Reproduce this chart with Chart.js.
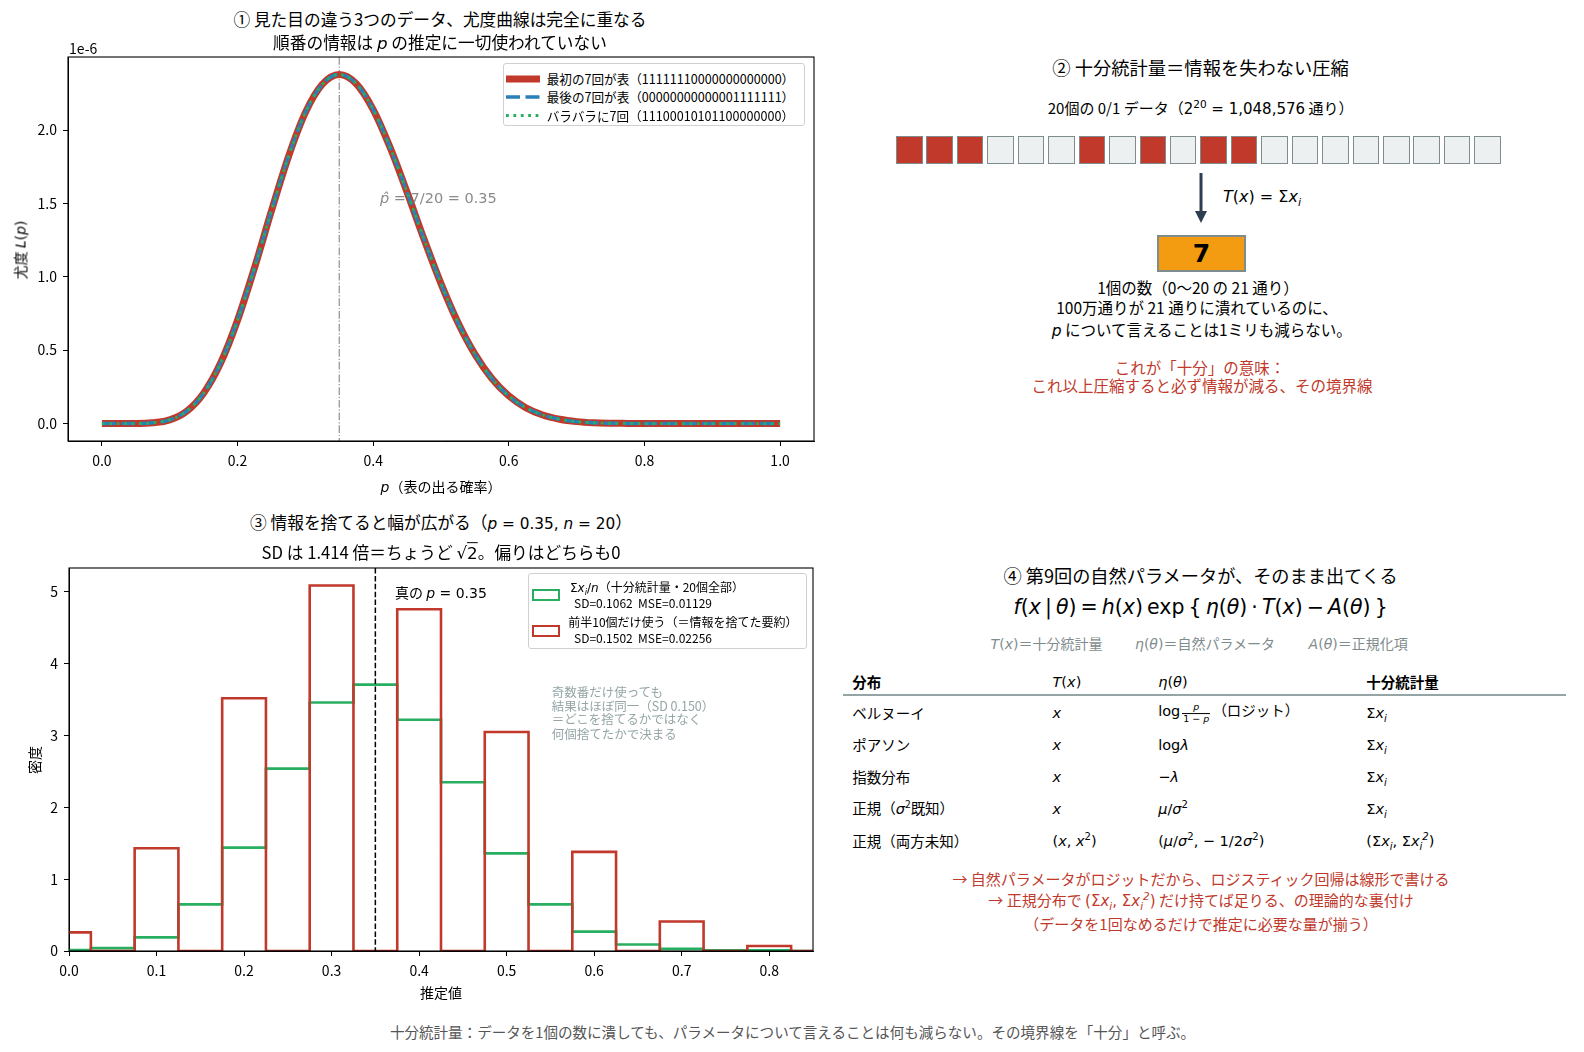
<!DOCTYPE html>
<html lang="ja">
<head>
<meta charset="utf-8">
<title>十分統計量</title>
<script src="https://cdn.jsdelivr.net/npm/chart.js@4.4.1/dist/chart.umd.min.js"></script>
<style>
  body { margin: 0; width: 1584px; height: 1052px; position: relative; overflow: hidden; background: #fff;
         font-family: "Noto Sans CJK JP", "Noto Sans", sans-serif; color: #000; }
  canvas { position: absolute; left: 0; }
  .t { position: absolute; white-space: nowrap; line-height: 1; transform: translate(-50%, -50%); }
  .l { position: absolute; white-space: nowrap; line-height: 1; transform: translate(0, -50%); }
  .rot { transform: translate(-50%, -50%) rotate(-90deg); }
  .m { font-family: "DejaVu Sans"; font-style: italic; }
  .r { font-family: "DejaVu Sans"; font-style: normal; }
  sub, sup { font-size: 70%; line-height: 0; }
  .pre { white-space: pre; }
  .legend { position: absolute; box-sizing: border-box; background: #fff; border: 1px solid #d0d0d0; border-radius: 3px; }
  .swatch { position: absolute; box-sizing: border-box; width: 28px; height: 11.5px; border: 2.6px solid; }
  #bits { position: absolute; left: 896px; top: 135.7px; display: flex; gap: 3.95px; }
  .bit { width: 26.5px; height: 28.6px; box-sizing: border-box; border: 1.2px solid #7f8c8d; background: #ecf0f1; }
  .bit.on { background: #c0392b; }
  #sumBox { position: absolute; left: 1157px; top: 235px; width: 89px; height: 36.5px; box-sizing: border-box;
            background: #f39c12; border: 2px solid #7f8c8d; display: flex; align-items: center; justify-content: center;
            font-family: "DejaVu Sans"; font-weight: bold; font-size: 25px; }
  .red { color: #c0392b; }
  .grey { color: #7f8c8d; }
  .frac { display: inline-block; vertical-align: -0.55em; text-align: center; font-size: 9.5px; margin: 0 2px; }
  .frac > span { display: block; line-height: 1.1; padding: 0 1px; }
  .frac > span:first-child { border-bottom: 0.8px solid #000; }
  .rule { position: absolute; left: 843px; top: 694px; width: 723px; height: 1.6px; background: #95a5a6; }
</style>
</head>
<body>

<!-- ① likelihood -->
<canvas id="likeChart" width="820" height="450" style="top:50px"></canvas>
<div class="t" style="left:440px;top:19px;font-size:16.7px">① 見た目の違う3つのデータ、尤度曲線は完全に重なる</div>
<div class="t" style="left:440px;top:42.7px;font-size:16.7px">順番の情報は <span class="m">p</span> の推定に一切使われていない</div>
<div class="l" style="left:69px;top:48px;font-size:14px">1e-6</div>
<div class="t rot" style="left:20px;top:250px;font-size:14px">尤度 <span class="m">L</span><span class="r">(</span><span class="m">p</span><span class="r">)</span></div>
<div class="t" style="left:441px;top:486px;font-size:14px"><span class="m">p</span>（表の出る確率）</div>
<div class="l" style="left:380px;top:197.7px;font-size:14.5px;color:#8a8a8a;font-family:'DejaVu Sans'"><span class="m">p̂</span> = 7/20 = 0.35</div>
<div class="legend" style="left:503px;top:62.5px;width:302px;height:63.5px"></div>
<svg style="position:absolute;left:506px;top:70px" width="34" height="52">
  <line x1="0" x2="34" y1="9" y2="9" stroke="#c0392b" stroke-width="7"/>
  <line x1="0" x2="34" y1="27" y2="27" stroke="#2980b9" stroke-width="3.5" stroke-dasharray="14 5.5"/>
  <line x1="0" x2="34" y1="45.5" y2="45.5" stroke="#27ae60" stroke-width="2.8" stroke-dasharray="2.8 4.6"/>
</svg>
<div id="likeLegend"></div>

<!-- ② sufficient statistic -->
<div class="t" style="left:1200.6px;top:66.5px;font-size:18.3px">② 十分統計量＝情報を失わない圧縮</div>
<div class="t" style="left:1200.6px;top:108px;font-size:15px">20個の 0/1 データ（<span class="r">2<sup>20</sup> = 1,048,576</span> 通り）</div>
<div id="bits"></div>
<svg style="position:absolute;left:1190px;top:170px" width="22" height="56">
  <line x1="11" x2="11" y1="3" y2="42" stroke="#2c3e50" stroke-width="3"/>
  <polygon points="5,41 17,41 11,53" fill="#2c3e50"/>
</svg>
<div class="l" style="left:1223px;top:196.7px;font-size:16px;font-family:'DejaVu Sans'"><span class="m">T</span>(<span class="m">x</span>) = Σ<span class="m">x<sub>i</sub></span></div>
<div id="sumBox"></div>
<div class="t" style="left:1198px;top:287.7px;font-size:15.5px">1個の数（0〜20 の 21 通り）</div>
<div class="t" style="left:1197px;top:307.7px;font-size:15.5px">100万通りが 21 通りに潰れているのに、</div>
<div class="t" style="left:1201.7px;top:331px;font-size:15.5px"><span class="m">p</span> について言えることは1ミリも減らない。</div>
<div class="t red" style="left:1200px;top:367.7px;font-size:15.5px">これが「十分」の意味：</div>
<div class="t red" style="left:1202px;top:385.7px;font-size:15.5px">これ以上圧縮すると必ず情報が減る、その境界線</div>

<!-- ③ histogram -->
<canvas id="histChart" width="820" height="460" style="top:550px"></canvas>
<div class="t" style="left:441px;top:522.7px;font-size:16.7px">③ 情報を捨てると幅が広がる（<span style="font-size:15.3px"><span class="m">p</span><span class="r"> = 0.35, </span><span class="m">n</span><span class="r"> = 20</span></span>）</div>
<div class="t" style="left:441px;top:553.3px;font-size:16.7px">SD は 1.414 倍＝ちょうど <span class="r">√<span style="text-decoration:overline">2</span></span>。偏りはどちらも0</div>
<div class="t rot" style="left:33.6px;top:760px;font-size:14px">密度</div>
<div class="t" style="left:441px;top:992px;font-size:14px">推定値</div>
<div class="l" style="left:395px;top:592px;font-size:14px">真の <span class="m">p</span><span class="r"> = 0.35</span></div>
<div class="legend" style="left:528.3px;top:572.7px;width:278.4px;height:76px"></div>
<div class="swatch" style="left:532px;top:589.3px;border-color:#27ae60"></div>
<div class="swatch" style="left:532px;top:625px;border-color:#c0392b"></div>
<div class="l" style="left:570px;top:586.7px;font-size:12px"><span class="r">Σ</span><span class="m">x<sub>i</sub></span><span class="r">/</span><span class="m">n</span>（十分統計量・20個全部）</div>
<div class="l pre" style="left:574px;top:603.3px;font-size:12px">SD=0.1062  MSE=0.01129</div>
<div class="l" style="left:568.3px;top:622.3px;font-size:12px">前半10個だけ使う（＝情報を捨てた要約）</div>
<div class="l pre" style="left:574px;top:637.7px;font-size:12px">SD=0.1502  MSE=0.02256</div>
<div class="l" style="left:551.7px;top:691.7px;font-size:12.5px;color:#95a5a6">奇数番だけ使っても</div>
<div class="l" style="left:551.7px;top:705.7px;font-size:12.5px;color:#95a5a6">結果はほぼ同一（SD 0.150）</div>
<div class="l" style="left:551.7px;top:719.3px;font-size:12.5px;color:#95a5a6">＝どこを捨てるかではなく</div>
<div class="l" style="left:551.7px;top:734px;font-size:12.5px;color:#95a5a6">何個捨てたかで決まる</div>

<!-- ④ exponential family -->
<div class="t" style="left:1200.6px;top:575px;font-size:18.2px">④ 第9回の自然パラメータが、そのまま出てくる</div>
<div class="t" style="left:1200.6px;top:606.7px;font-size:20.5px;font-family:'DejaVu Sans'"><span class="m">f</span>(<span class="m">x</span>&thinsp;|&thinsp;<span class="m">θ</span>)&thinsp;=&thinsp;<span class="m">h</span>(<span class="m">x</span>)&thinsp;exp&thinsp;{&thinsp;<span class="m">η</span>(<span class="m">θ</span>)&thinsp;·&thinsp;<span class="m">T</span>(<span class="m">x</span>)&thinsp;−&thinsp;<span class="m">A</span>(<span class="m">θ</span>)&thinsp;}</div>
<div class="l grey" style="left:990.6px;top:642.7px;font-size:14px"><span class="m">T</span><span class="r">(</span><span class="m">x</span><span class="r">)</span>＝十分統計量</div>
<div class="l grey" style="left:1135px;top:642.7px;font-size:14px"><span class="m">η</span><span class="r">(</span><span class="m">θ</span><span class="r">)</span>＝自然パラメータ</div>
<div class="l grey" style="left:1308.6px;top:642.7px;font-size:14px"><span class="m">A</span><span class="r">(</span><span class="m">θ</span><span class="r">)</span>＝正規化項</div>
<div id="famTable"></div>
<div class="rule"></div>
<div class="t red" style="left:1201px;top:877.5px;font-size:15px">→ 自然パラメータがロジットだから、ロジスティック回帰は線形で書ける</div>
<div class="t red" style="left:1201px;top:899.8px;font-size:15px">→ 正規分布で <span class="r">(Σ<span class="m">x<sub>i</sub></span>, Σ<span class="m">x<sub>i</sub><sup>2</sup></span>)</span> だけ持てば足りる、の理論的な裏付け</div>
<div class="t red" style="left:1201px;top:923px;font-size:15px">（データを1回なめるだけで推定に必要な量が揃う）</div>

<div class="t" style="left:792.5px;top:1032px;font-size:14.55px;color:#555">十分統計量：データを1個の数に潰しても、パラメータについて言えることは何も減らない。その境界線を「十分」と呼ぶ。</div>

<script>
'use strict';

// ---- Data ----

// panel 1: likelihood of 7 heads in 20 (units of 1e-6), read at p = 0, 0.025, ... 1.0
const pGrid = [0, 0.025, 0.05, 0.075, 0.1, 0.125, 0.15, 0.175, 0.2, 0.225, 0.25, 0.275, 0.3, 0.325, 0.35,
  0.375, 0.4, 0.425, 0.45, 0.475, 0.5, 0.525, 0.55, 0.575, 0.6, 0.625, 0.65, 0.675, 0.7, 0.725, 0.75,
  0.775, 0.8, 0.825, 0.85, 0.875, 0.9, 0.925, 0.95, 0.975, 1.0];
const likelihood = [0, 0, 0, 0.005, 0.025, 0.084, 0.207, 0.412, 0.704, 1.061, 1.450, 1.818, 2.119, 2.312, 2.379,
  2.316, 2.140, 1.881, 1.576, 1.256, 0.954, 0.689, 0.473, 0.307, 0.188, 0.108, 0.058, 0.029, 0.013, 0.005, 0.002,
  0.001, 0, 0, 0, 0, 0, 0, 0, 0, 0];
const seqLabels = ['最初の7回が表（11111110000000000000）', '最後の7回が表（00000000000001111111）', 'バラバラに7回（11100010101100000000）'];
const pHat = 0.35;
const likeXTicks = [0, 0.2, 0.4, 0.6, 0.8, 1.0];
const likeYTicks = [0, 0.5, 1.0, 1.5, 2.0];

// panel 2: the scattered sequence
const seqBits = [1, 1, 1, 0, 0, 0, 1, 0, 1, 0, 1, 1, 0, 0, 0, 0, 0, 0, 0, 0];

// panel 3: histogram densities, bins of width 0.05
const binCenters = [0, 0.05, 0.1, 0.15, 0.2, 0.25, 0.3, 0.35, 0.4, 0.45, 0.5, 0.55, 0.6, 0.65, 0.7, 0.75, 0.8, 0.85];
const fullDensity = [0.014, 0.04, 0.19, 0.65, 1.44, 2.54, 3.46, 3.71, 3.22, 2.35, 1.36, 0.65, 0.27, 0.09, 0.03, 0.01, 0.01, 0];
const halfDensity = [0.26, 0, 1.43, 0, 3.52, 0, 5.09, 0, 4.76, 0, 3.05, 0, 1.38, 0, 0.41, 0, 0.07, 0];
const binWidth = 0.05;
const trueP = 0.35;
const histXTicks = [0, 0.1, 0.2, 0.3, 0.4, 0.5, 0.6, 0.7, 0.8];
const histYTicks = [0, 1, 2, 3, 4, 5];

// panel 4: exponential family table
const famNames = ['ベルヌーイ', 'ポアソン', '指数分布', '正規（<span class="m">σ</span><sup>2</sup>既知）', '正規（両方未知）'];
const famT = ['<span class="m">x</span>', '<span class="m">x</span>', '<span class="m">x</span>', '<span class="m">x</span>',
  '<span class="r">(<span class="m">x</span>, <span class="m">x</span><sup>2</sup>)</span>'];
const famEta = [
  '<span class="r">log</span><span class="frac"><span class="m">p</span><span class="r">1 − <span class="m">p</span></span></span>（ロジット）',
  '<span class="r">log</span><span class="m">λ</span>',
  '<span class="r">−</span><span class="m">λ</span>',
  '<span class="m">μ</span><span class="r">/</span><span class="m">σ</span><sup class="r">2</sup>',
  '<span class="r">(</span><span class="m">μ</span><span class="r">/</span><span class="m">σ</span><sup class="r">2</sup><span class="r">,  − 1/2</span><span class="m">σ</span><sup class="r">2</sup><span class="r">)</span>'];
const famStat = ['<span class="r">Σ</span><span class="m">x<sub>i</sub></span>', '<span class="r">Σ</span><span class="m">x<sub>i</sub></span>',
  '<span class="r">Σ</span><span class="m">x<sub>i</sub></span>', '<span class="r">Σ</span><span class="m">x<sub>i</sub></span>',
  '<span class="r">(Σ<span class="m">x<sub>i</sub></span>, Σ<span class="m">x<sub>i</sub><sup>2</sup></span>)</span>'];

// ---- Layout bits ----

const colX = [852.3, 1052.5, 1158.2, 1366.3];
const rowY = [713.3, 745, 776.7, 809.3, 841];

function addText(parent, html, x, y, size, extra) {
  let d = document.createElement('div');
  d.className = 'l';
  d.style.left = x + 'px';
  d.style.top = y + 'px';
  d.style.fontSize = size + 'px';
  if (extra) d.style.cssText += extra;
  d.innerHTML = html;
  parent.appendChild(d);
}

let legendBox = document.getElementById('likeLegend');
seqLabels.forEach((s, i) => addText(legendBox, s, 546.7, [79, 97, 115.5][i], 12.6));

let bitRow = document.getElementById('bits');
seqBits.forEach(b => {
  let d = document.createElement('div');
  d.className = b ? 'bit on' : 'bit';
  bitRow.appendChild(d);
});
document.getElementById('sumBox').textContent = seqBits.reduce((a, b) => a + b, 0);

let table = document.getElementById('famTable');
addText(table, '分布', colX[0], 681.7, 14.5, 'font-weight:bold');
addText(table, '<span class="m">T</span><span class="r">(</span><span class="m">x</span><span class="r">)</span>', colX[1], 681.7, 14.5);
addText(table, '<span class="m">η</span><span class="r">(</span><span class="m">θ</span><span class="r">)</span>', colX[2], 681.7, 14.5);
addText(table, '十分統計量', colX[3], 681.7, 14.5, 'font-weight:bold');
for (let i = 0; i < famNames.length; i++) {
  addText(table, famNames[i], colX[0], rowY[i], 14.5);
  addText(table, famT[i], colX[1], rowY[i], 14.5);
  addText(table, famEta[i], colX[2], rowY[i], 14.5);
  addText(table, famStat[i], colX[3], rowY[i], 14.5);
}

// ---- Chart helpers ----

const frame = {
  id: 'frame',
  afterDraw(chart) {
    const { ctx, chartArea: a } = chart;
    ctx.save();
    ctx.strokeStyle = '#000';
    ctx.lineWidth = 1.1;
    ctx.strokeRect(a.left, a.top, a.right - a.left, a.bottom - a.top);
    ctx.restore();
  }
};

function refLine(id, value, color, dash, width, hook) {
  return {
    id: id,
    [hook](chart) {
      const { ctx, chartArea: a } = chart;
      const x = chart.scales.x.getPixelForValue(value);
      ctx.save();
      ctx.strokeStyle = color;
      ctx.lineWidth = width;
      ctx.setLineDash(dash);
      ctx.beginPath();
      ctx.moveTo(x, a.top);
      ctx.lineTo(x, a.bottom);
      ctx.stroke();
      ctx.restore();
    }
  };
}

// fixed axis box so the plot area lands where the layout padding says
function axis(min, max, ticks, fmt, size) {
  return {
    type: 'linear', min: min, max: max,
    afterBuildTicks: s => { s.ticks = ticks.map(v => ({ value: v })); },
    afterFit: s => {
      size(s);
      s.paddingTop = 0; s.paddingBottom = 0; s.paddingLeft = 0; s.paddingRight = 0;
    },
    ticks: { color: '#000', padding: 6, font: { family: 'Noto Sans CJK JP', size: 14 }, maxRotation: 0, autoSkip: false, callback: fmt },
    grid: { display: true, drawOnChartArea: false, drawTicks: true, tickLength: 5, tickColor: '#000' },
    border: { display: true, color: '#000', width: 1 }
  };
}

const baseOptions = {
  responsive: false, animation: false, devicePixelRatio: 1,
  plugins: { legend: { display: false }, tooltip: { enabled: false } }
};

// ---- ① likelihood chart ----

let likePts = pGrid.map((p, i) => ({ x: p, y: likelihood[i] }));

new Chart(document.getElementById('likeChart'), {
  type: 'line',
  data: {
    datasets: [
      { label: seqLabels[2], data: likePts, borderColor: '#27ae60', borderWidth: 2.8, borderDash: [2.8, 4.6] },
      { label: seqLabels[1], data: likePts, borderColor: '#2980b9', borderWidth: 3.5, borderDash: [14, 5.5] },
      { label: seqLabels[0], data: likePts, borderColor: '#c0392b', borderWidth: 7 }
    ]
  },
  options: Object.assign({}, baseOptions, {
    layout: { padding: { top: 7, right: 6, left: 0, bottom: 0 } },
    elements: { point: { radius: 0 }, line: { cubicInterpolationMode: 'monotone', borderCapStyle: 'butt' } },
    scales: {
      x: axis(-0.05, 1.05, likeXTicks, v => v.toFixed(1), s => { s.height = 59; }),
      y: axis(-0.119, 2.498, likeYTicks, v => v.toFixed(1), s => { s.width = 68; })
    }
  }),
  plugins: [frame, refLine('phat', pHat, '#999999', [7.7, 1.9, 1.2, 1.9], 1.3, 'beforeDatasetsDraw')]
});

// ---- ③ histogram chart (step outlines) ----

function stepOutline(heights) {
  let pts = [{ x: binCenters[0] - binWidth / 2, y: 0 }];
  binCenters.forEach((c, i) => {
    pts.push({ x: c - binWidth / 2, y: heights[i] });
    pts.push({ x: c + binWidth / 2, y: heights[i] });
  });
  pts.push({ x: binCenters[binCenters.length - 1] + binWidth / 2, y: 0 });
  return pts;
}

new Chart(document.getElementById('histChart'), {
  type: 'line',
  data: {
    datasets: [
      { label: '前半10個だけ使う', data: stepOutline(halfDensity), borderColor: '#c0392b', borderWidth: 2.6, tension: 0 },
      { label: 'Σx/n', data: stepOutline(fullDensity), borderColor: '#27ae60', borderWidth: 2.6, tension: 0 }
    ]
  },
  options: Object.assign({}, baseOptions, {
    layout: { padding: { top: 18, right: 7, left: 0, bottom: 0 } },
    elements: { point: { radius: 0 }, line: { borderJoinStyle: 'miter', borderCapStyle: 'butt' } },
    scales: {
      x: axis(0, 0.85, histXTicks, v => v.toFixed(1), s => { s.height = 59; }),
      y: axis(0, 5.334, histYTicks, v => String(v), s => { s.width = 69; })
    }
  }),
  plugins: [frame, refLine('truep', trueP, '#000', [5.5, 2.4], 1.5, 'afterDatasetsDraw')]
});
</script>
</body>
</html>
